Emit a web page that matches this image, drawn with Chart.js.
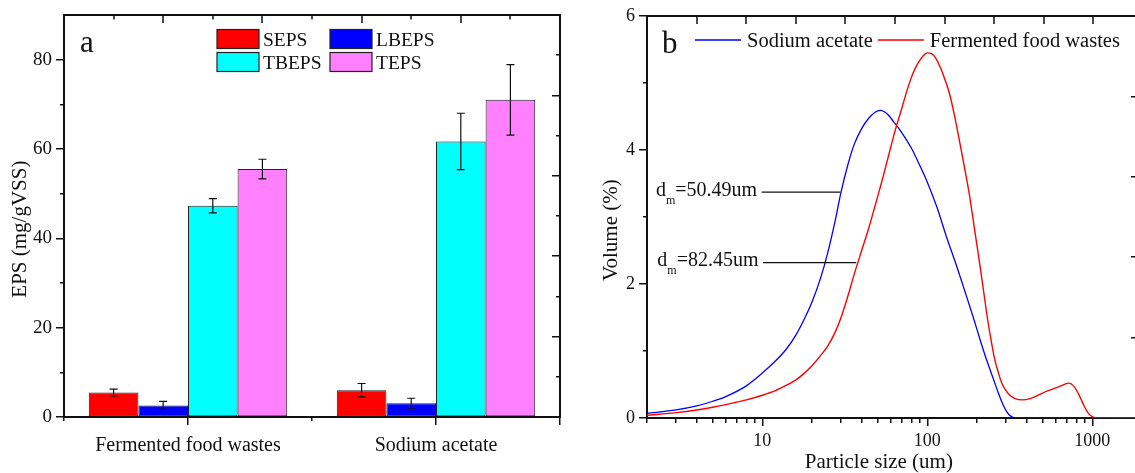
<!DOCTYPE html>
<html>
<head>
<meta charset="utf-8">
<script src="https://cdn.jsdelivr.net/npm/chart.js@4.4.1/dist/chart.umd.min.js"></script>
<style>
  html, body { margin: 0; padding: 0; background: #fff; }
  body { width: 1135px; height: 473px; position: relative; overflow: hidden; }
  #boxA { position: absolute; left: 0; top: 0; width: 570px; height: 473px; }
  #boxB { position: absolute; left: 570px; top: 0; width: 565px; height: 473px; overflow: hidden; }
</style>
</head>
<body>
<div id="boxA"><canvas id="epsChart" width="570" height="473"></canvas></div>
<div id="boxB"><canvas id="psdChart" width="568" height="473"></canvas></div>
<script>
const SERIF = "'Liberation Serif', 'Times New Roman', serif";
const INK = '#111';
const NBSP = '\u00a0';
Chart.defaults.font.family = SERIF;
Chart.defaults.color = INK;

// ---- panel a: EPS fractions ----
const groups = ['Fermented food wastes', 'Sodium acetate'];
const epsNames = ['SEPS', 'LBEPS', 'TBEPS', 'TEPS'];
const epsColors = ['#ff0000', '#0000ff', '#00ffff', '#ff80ff'];
const sepsVals = [5.5, 6.0];
const sepsErr = [0.75, 1.5];
const lbepsVals = [2.6, 3.1];
const lbepsErr = [0.9, 1.1];
const tbepsVals = [47.3, 61.7];
const tbepsErr = [1.6, 6.3];
const tepsVals = [55.5, 71.0];
const tepsErr = [2.2, 7.9];
const topTicksA = [1, 2, 3, 4, 5, 6, 7, 8, 9];

// ---- panel b: particle size distribution ----
const saSize = [2, 3, 4, 5, 6, 8, 10, 12, 14, 16, 18, 20, 22.5, 25, 27.5, 30, 33, 36, 40, 44, 48, 52, 57, 63, 70, 80, 90, 100, 115, 130, 150, 170, 190, 210, 230, 250, 270, 290, 310, 330, 350, 2000];
const saVolume = [0.07, 0.12, 0.18, 0.25, 0.32, 0.48, 0.67, 0.85, 1.03, 1.24, 1.48, 1.73, 2.08, 2.48, 2.92, 3.37, 3.78, 4.08, 4.32, 4.47, 4.56, 4.59, 4.54, 4.41, 4.26, 4.03, 3.77, 3.52, 3.13, 2.72, 2.28, 1.87, 1.50, 1.15, 0.85, 0.60, 0.37, 0.18, 0.06, 0.01, 0, 0];
const ffwSize = [2, 3, 4, 5, 6, 8, 10, 12, 14, 16, 18, 20, 22.5, 25, 27.5, 30, 33, 36, 40, 44, 48, 53, 58, 64, 70, 76, 82, 88, 94, 100, 106, 112, 120, 128, 136, 146, 156, 168, 180, 194, 209, 220, 232, 244, 256, 270, 283, 298, 313, 340, 380, 420, 470, 530, 600, 660, 720, 780, 840, 900, 960, 1020, 1100, 2000];
const ffwVolume = [0.04, 0.08, 0.12, 0.16, 0.20, 0.27, 0.34, 0.41, 0.49, 0.57, 0.67, 0.78, 0.93, 1.08, 1.27, 1.50, 1.82, 2.14, 2.50, 2.82, 3.15, 3.53, 3.90, 4.30, 4.62, 4.92, 5.15, 5.30, 5.40, 5.45, 5.44, 5.38, 5.23, 5.05, 4.85, 4.52, 4.16, 3.74, 3.33, 2.79, 2.26, 1.87, 1.47, 1.15, 0.88, 0.67, 0.52, 0.42, 0.35, 0.29, 0.27, 0.29, 0.34, 0.40, 0.45, 0.49, 0.52, 0.46, 0.32, 0.16, 0.05, 0.01, 0, 0];
const sizeTicks = [2, 3, 4, 5, 6, 7, 8, 9, 10, 20, 30, 40, 50, 60, 70, 80, 90, 100, 200, 300, 400, 500, 600, 700, 800, 900, 1000];
const sizeLabels = [10, 100, 1000];
const topTicksB = [1, 2, 3, 4, 5, 6, 7, 8, 9];
const dmText = ['=50.49um', '=82.45um'];
const dmLevel = [3.37, 2.32];
const dmCross = [29.7, 37.1];

// minor ticks: only part of the tick line is drawn
const DASH_FROM_AXIS = [4, 100];
const DASH_TO_AXIS = [0, 4, 4, 100];

function font(size) {
  return { family: SERIF, size: size, lineHeight: 1.2 };
}

function fixSize(w, h) {
  return function(scale) {
    if (w !== null) scale.width = w;
    if (h !== null) scale.height = h;
    scale.paddingLeft = scale.paddingRight = scale.paddingTop = scale.paddingBottom = 0;
  };
}

function tickGrid(len, minorDash, isMinor) {
  return {
    display: true,
    drawOnChartArea: false,
    offset: false,
    lineWidth: 1.5,
    tickLength: len,
    tickWidth: 1.5,
    tickColor: INK,
    tickBorderDash: function(c) {
      return c.tick && isMinor && isMinor(c.tick.value) ? minorDash : [];
    }
  };
}

const axisBorder = { display: true, width: 2, color: INK };
const noGrid = { display: false, drawOnChartArea: false, offset: false };

// inward ticks hanging from the top frame, placed through the xTop scale
function drawTopTicks(chart, values, major, minor, oddMinor) {
  const s = chart.scales.xTop;
  const ctx = chart.ctx;
  const y0 = Math.round(chart.chartArea.top);
  ctx.save();
  ctx.fillStyle = INK;
  values.forEach(function(v) {
    const x = Math.round(s.getPixelForValue(v));
    const len = (oddMinor && v % 2 !== 0) ? minor : major;
    ctx.fillRect(x - 0.75, y0, 1.5, len);
  });
  ctx.restore();
}

// error bars drawn on top of bars
const errorBars = {
  id: 'errorBars',
  afterDatasetsDraw(chart) {
    const ctx = chart.ctx;
    const yScale = chart.scales.y;
    ctx.save();
    ctx.strokeStyle = INK;
    ctx.lineWidth = 1.2;
    chart.data.datasets.forEach(function(ds, di) {
      const meta = chart.getDatasetMeta(di);
      meta.data.forEach(function(bar, i) {
        const v = ds.data[i], e = ds.errors[i];
        const yt = yScale.getPixelForValue(v + e);
        const yb = yScale.getPixelForValue(v - e);
        ctx.beginPath();
        ctx.moveTo(bar.x, yt); ctx.lineTo(bar.x, yb);
        ctx.moveTo(bar.x - 4, yt); ctx.lineTo(bar.x + 4, yt);
        ctx.moveTo(bar.x - 4, yb); ctx.lineTo(bar.x + 4, yb);
        ctx.stroke();
      });
    });
    ctx.restore();
  }
};

// top ticks, panel letter and two-column legend
const epsDecor = {
  id: 'epsDecor',
  afterDraw(chart) {
    drawTopTicks(chart, topTicksA, 8, 4.5, true);
    const ctx = chart.ctx;
    const a = chart.chartArea;
    ctx.save();
    ctx.fillStyle = INK;
    ctx.font = '31px ' + SERIF;
    ctx.textBaseline = 'alphabetic';
    ctx.fillText('a', a.left + 16, 52);
    ctx.font = '19.5px ' + SERIF;
    const cols = [a.left + 153, a.left + 266];
    const rows = [29.5, 52.5];
    epsNames.forEach(function(name, i) {
      const x = cols[i % 2], y = rows[Math.floor(i / 2)];
      ctx.fillStyle = epsColors[i];
      ctx.fillRect(x, y, 42, 19);
      ctx.strokeStyle = '#222';
      ctx.lineWidth = 1.2;
      ctx.strokeRect(x, y, 42, 19);
      ctx.fillStyle = INK;
      ctx.fillText(name, x + 46, y + 16.5);
    });
    ctx.restore();
  }
};

const epsSeries = [sepsVals, lbepsVals, tbepsVals, tepsVals];
const epsErrors = [sepsErr, lbepsErr, tbepsErr, tepsErr];

new Chart(document.getElementById('epsChart'), {
  type: 'bar',
  data: {
    labels: groups,
    datasets: epsNames.map(function(name, i) {
      return {
        label: name,
        data: epsSeries[i],
        errors: epsErrors[i],
        backgroundColor: epsColors[i],
        borderColor: '#222',
        borderWidth: 1,
        borderSkipped: false,
        barPercentage: 1.0,
        categoryPercentage: 0.8,
        xAxisID: 'x',
        yAxisID: 'y'
      };
    })
  },
  options: {
    responsive: false,
    animation: false,
    layout: { padding: 0 },
    font: { family: SERIF },
    plugins: { legend: { display: false }, tooltip: { enabled: false } },
    scales: {
      x: {
        type: 'category',
        position: 'bottom',
        offset: true,
        weight: 0,
        grid: tickGrid(8),
        border: axisBorder,
        ticks: { font: font(20), color: INK, padding: 9, autoSkip: false, maxRotation: 0 },
        afterFit: fixSize(null, 56)
      },
      xMinor: {
        type: 'category',
        position: 'bottom',
        offset: true,
        weight: -1,
        grid: Object.assign(tickGrid(8, DASH_FROM_AXIS, function() { return true; }), { offset: true }),
        border: { display: false },
        ticks: { display: false },
        afterFit: fixSize(null, 0)
      },
      y: {
        type: 'linear',
        position: 'left',
        min: 0,
        max: 90,
        ticks: {
          stepSize: 10,
          font: font(19),
          color: INK,
          padding: 4,
          callback: function(v) { return (v % 20 === 0 && v <= 80) ? v : ''; }
        },
        grid: Object.assign(tickGrid(8, DASH_TO_AXIS, function(v) { return v % 20 !== 0; }), {
          tickColor: function(c) { return c.tick && c.tick.value === 90 ? 'rgba(0,0,0,0)' : INK; }
        }),
        border: axisBorder,
        title: {
          display: true,
          text: 'EPS (mg/gVSS)' + NBSP.repeat(5),
          color: INK,
          font: { family: SERIF, size: 21, lineHeight: 1 },
          padding: { top: 10, bottom: 0 }
        },
        afterFit: fixSize(64, null)
      },
      yR: {
        type: 'linear',
        position: 'right',
        min: 0,
        max: 10,
        ticks: { display: false, stepSize: 1 },
        grid: tickGrid(-8, [5, 100], function(v) { return v % 2 !== 0; }),
        border: axisBorder,
        afterFit: fixSize(10, null)
      },
      xTop: {
        type: 'linear',
        position: 'top',
        min: 0,
        max: 10,
        offset: false,
        ticks: { display: false, stepSize: 1 },
        grid: noGrid,
        border: axisBorder,
        afterFit: fixSize(null, 15)
      }
    }
  },
  plugins: [errorBars, epsDecor]
});

// panel b decorations: top ticks, letter, line legend, d_m annotations
const psdDecor = {
  id: 'psdDecor',
  afterDraw(chart) {
    drawTopTicks(chart, topTicksB, 8, 8, false);
    const ctx = chart.ctx;
    const a = chart.chartArea;
    const xs = chart.scales.x, ys = chart.scales.y;
    ctx.save();
    ctx.fillStyle = INK;
    ctx.textBaseline = 'alphabetic';
    ctx.font = '31px ' + SERIF;
    ctx.fillText('b', a.left + 15, 53);

    // legend (dataset order reversed: blue first)
    ctx.font = '20.5px ' + SERIF;
    let x = a.left + 48;
    const items = chart.data.datasets.slice().reverse();
    items.forEach(function(ds) {
      ctx.strokeStyle = ds.borderColor;
      ctx.lineWidth = 1.3;
      ctx.beginPath();
      ctx.moveTo(x, 40); ctx.lineTo(x + 46, 40);
      ctx.stroke();
      ctx.fillStyle = INK;
      ctx.fillText(ds.label, x + 52, 46.5);
      x += 52 + ctx.measureText(ds.label).width + 5;
    });

    // median diameter labels
    dmText.forEach(function(t, i) {
      const y = ys.getPixelForValue(dmLevel[i]);
      let tx = a.left + 9 + i * 1.3;
      ctx.fillStyle = INK;
      ctx.font = '20px ' + SERIF;
      ctx.fillText('d', tx, y + 3.7);
      tx += ctx.measureText('d').width;
      ctx.font = '12px ' + SERIF;
      ctx.fillText('m', tx, y + 11.7);
      tx += ctx.measureText('m').width;
      ctx.font = '20px ' + SERIF;
      ctx.fillText(t, tx, y + 3.7);
      tx += ctx.measureText(t).width + 4.5;
      ctx.strokeStyle = INK;
      ctx.lineWidth = 1.2;
      ctx.beginPath();
      ctx.moveTo(tx, y); ctx.lineTo(xs.getPixelForValue(dmCross[i]), y);
      ctx.stroke();
    });
    ctx.restore();
  }
};

function points(sizes, vols) {
  return sizes.map(function(s, i) { return { x: s, y: vols[i] }; });
}

new Chart(document.getElementById('psdChart'), {
  type: 'line',
  data: {
    datasets: [
      {
        label: 'Fermented food wastes',
        data: points(ffwSize, ffwVolume),
        borderColor: '#ff0000',
        borderWidth: 1.4,
        pointRadius: 0,
        cubicInterpolationMode: 'monotone',
        xAxisID: 'x',
        yAxisID: 'y'
      },
      {
        label: 'Sodium acetate',
        data: points(saSize, saVolume),
        borderColor: '#0000ff',
        borderWidth: 1.3,
        pointRadius: 0,
        cubicInterpolationMode: 'monotone',
        xAxisID: 'x',
        yAxisID: 'y'
      }
    ]
  },
  options: {
    responsive: false,
    animation: false,
    layout: { padding: 0 },
    font: { family: SERIF },
    plugins: { legend: { display: false }, tooltip: { enabled: false } },
    scales: {
      x: {
        type: 'logarithmic',
        position: 'bottom',
        min: 2,
        max: 1866,
        afterBuildTicks: function(s) { s.ticks = sizeTicks.map(function(v) { return { value: v }; }); },
        ticks: {
          font: font(18),
          color: INK,
          padding: 4,
          autoSkip: false,
          maxRotation: 0,
          callback: function(v) { return sizeLabels.indexOf(v) >= 0 ? String(v) : ''; }
        },
        grid: tickGrid(8, DASH_FROM_AXIS, function(v) { return sizeLabels.indexOf(v) < 0; }),
        border: axisBorder,
        title: {
          display: true,
          text: 'Particle size (um)' + NBSP.repeat(5),
          color: INK,
          font: { family: SERIF, size: 21, lineHeight: 1 },
          padding: { top: 0, bottom: 0 }
        },
        afterFit: fixSize(null, 55)
      },
      y: {
        type: 'linear',
        position: 'left',
        min: 0,
        max: 6,
        ticks: {
          stepSize: 1,
          font: font(18),
          color: INK,
          padding: 4,
          callback: function(v) { return v % 2 === 0 ? v : ''; }
        },
        grid: tickGrid(8, DASH_TO_AXIS, function(v) { return v % 2 !== 0; }),
        border: axisBorder,
        title: {
          display: true,
          text: 'Volume (%)' + NBSP.repeat(5),
          color: INK,
          font: { family: SERIF, size: 21, lineHeight: 1 },
          padding: { top: 31, bottom: 0 }
        },
        afterFit: fixSize(77, null)
      },
      xTop: {
        type: 'linear',
        position: 'top',
        min: 0,
        max: 9.88,
        ticks: { display: false, stepSize: 1 },
        grid: noGrid,
        border: axisBorder,
        afterFit: fixSize(null, 16)
      },
      yR: {
        type: 'linear',
        position: 'right',
        min: 0,
        max: 5,
        ticks: { display: false, stepSize: 1 },
        grid: tickGrid(-6),
        border: axisBorder,
        afterFit: fixSize(1, null)
      }
    }
  },
  plugins: [psdDecor]
});
</script>
</body>
</html>
